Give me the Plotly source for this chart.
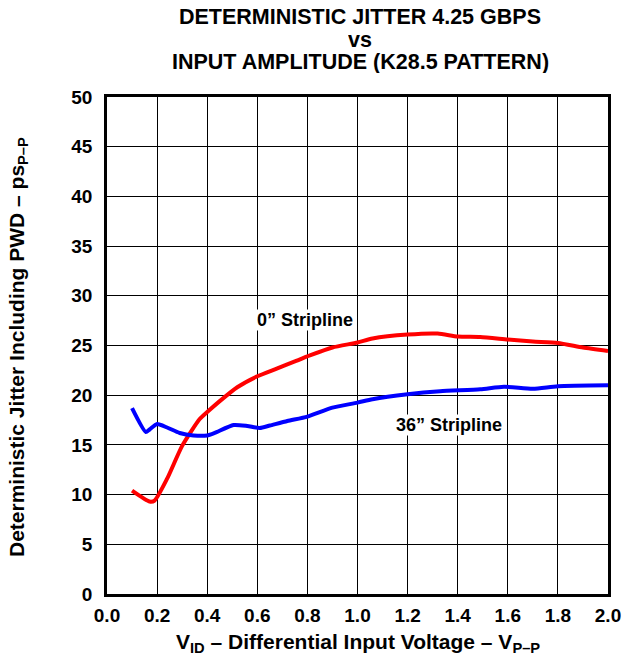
import plotly.graph_objects as go

# 0" stripline (red)
x_0in = [0.10, 0.17, 0.19, 0.24, 0.30, 0.37, 0.40, 0.45, 0.52, 0.60, 0.68, 0.75, 0.81, 0.90, 1.00,
         1.06, 1.20, 1.32, 1.40, 1.49, 1.60, 1.70, 1.80, 1.90, 2.00]
y_0in = [10.4, 9.3, 9.4, 11.6, 14.9, 17.6, 18.3, 19.4, 20.8, 21.9, 22.7, 23.4, 24.0, 24.8, 25.3,
         25.7, 26.1, 26.2, 25.9, 25.85, 25.6, 25.4, 25.25, 24.8, 24.45]

# 36" stripline (blue)
x_36in = [0.10, 0.155, 0.17, 0.20, 0.24, 0.29, 0.345, 0.40, 0.43, 0.505, 0.56, 0.61, 0.65, 0.72, 0.80,
          0.90, 1.00, 1.06, 1.20, 1.33, 1.49, 1.585, 1.70, 1.80, 2.00]
y_36in = [18.7, 16.3, 16.55, 17.1, 16.75, 16.2, 15.95, 15.95, 16.2, 17.0, 16.9, 16.7, 16.95, 17.4, 17.85,
          18.75, 19.25, 19.6, 20.1, 20.4, 20.6, 20.85, 20.65, 20.9, 21.0]

x_ticks = [0.0, 0.2, 0.4, 0.6, 0.8, 1.0, 1.2, 1.4, 1.6, 1.8, 2.0]
x_tick_labels = ["0.0", "0.2", "0.4", "0.6", "0.8", "1.0", "1.2", "1.4", "1.6", "1.8", "2.0"]
y_ticks = [0, 5, 10, 15, 20, 25, 30, 35, 40, 45, 50]

title_lines = ["DETERMINISTIC JITTER 4.25 GBPS", "vs", "INPUT AMPLITUDE (K28.5 PATTERN)"]
x_title = "V<sub>ID</sub> – Differential Input Voltage – V<sub>P–P</sub>"
y_title = "Deterministic Jitter Including PWD – ps<sub>P–P</sub>"

FONT = "Liberation Sans, Arial, sans-serif"
BLACK = "black"

fig = go.Figure()
fig.add_trace(go.Scatter(x=x_0in, y=y_0in, mode="lines",
                         line=dict(color="#ff0000", width=4, shape="spline", smoothing=0.6),
                         showlegend=False, hoverinfo="skip"))
fig.add_trace(go.Scatter(x=x_36in, y=y_36in, mode="lines",
                         line=dict(color="#0000ff", width=4, shape="spline", smoothing=0.6),
                         showlegend=False, hoverinfo="skip"))

# curve labels
fig.add_annotation(x=0.79, y=27.6, text="<b>0” Stripline</b>", showarrow=False,
                   font=dict(family=FONT, size=18, color=BLACK), bgcolor="white", borderpad=0)
fig.add_annotation(x=1.365, y=17.05, text="<b>36” Stripline</b>", showarrow=False,
                   font=dict(family=FONT, size=18, color=BLACK), bgcolor="white", borderpad=0)

# title lines (tight leading like the reference)
PLOT_TOP, PLOT_H = 97, 497
for txt, yc in zip(title_lines, [17, 40, 62.5]):
    fig.add_annotation(xref="paper", yref="paper", x=0.505, y=1 + (PLOT_TOP - yc) / PLOT_H,
                       xanchor="center", yanchor="middle", text=f"<b>{txt}</b>", showarrow=False,
                       height=22, valign="middle", borderpad=0,
                       font=dict(family=FONT, size=21.5, color=BLACK))

# axis titles
fig.add_annotation(xref="paper", yref="paper", x=0.5, y=-0.0986, xanchor="center", yanchor="middle",
                   text=f"<b>{x_title}</b>", showarrow=False,
                   font=dict(family=FONT, size=21, color=BLACK))
fig.add_annotation(xref="paper", yref="paper", x=-0.1776, y=0.497, xanchor="center", yanchor="middle",
                   textangle=-90, text=f"<b>{y_title}</b>", showarrow=False,
                   font=dict(family=FONT, size=21, color=BLACK))

fig.update_layout(
    width=623, height=664,
    margin=dict(l=107, r=15, t=97, b=70, autoexpand=False),
    paper_bgcolor="white", plot_bgcolor="white",
    font=dict(family=FONT, color=BLACK),
)
fig.update_xaxes(range=[0, 2.0], tickvals=x_ticks, ticktext=x_tick_labels,
                 showgrid=True, gridcolor=BLACK, gridwidth=1,
                 showline=True, linecolor=BLACK, linewidth=2.5, mirror=True,
                 ticks="", zeroline=False, ticklabelstandoff=2,
                 tickfont=dict(family=FONT, size=19, color=BLACK, weight="bold"))
fig.update_yaxes(range=[0, 50], tickvals=y_ticks,
                 showgrid=True, gridcolor=BLACK, gridwidth=1,
                 showline=True, linecolor=BLACK, linewidth=2.5, mirror=True,
                 ticks="", zeroline=False, ticklabelstandoff=8,
                 tickfont=dict(family=FONT, size=19, color=BLACK, weight="bold"))

fig.write_html("out.html", config={"displayModeBar": False},
               post_script="document.body.style.margin='0';document.body.style.overflow='hidden';")
